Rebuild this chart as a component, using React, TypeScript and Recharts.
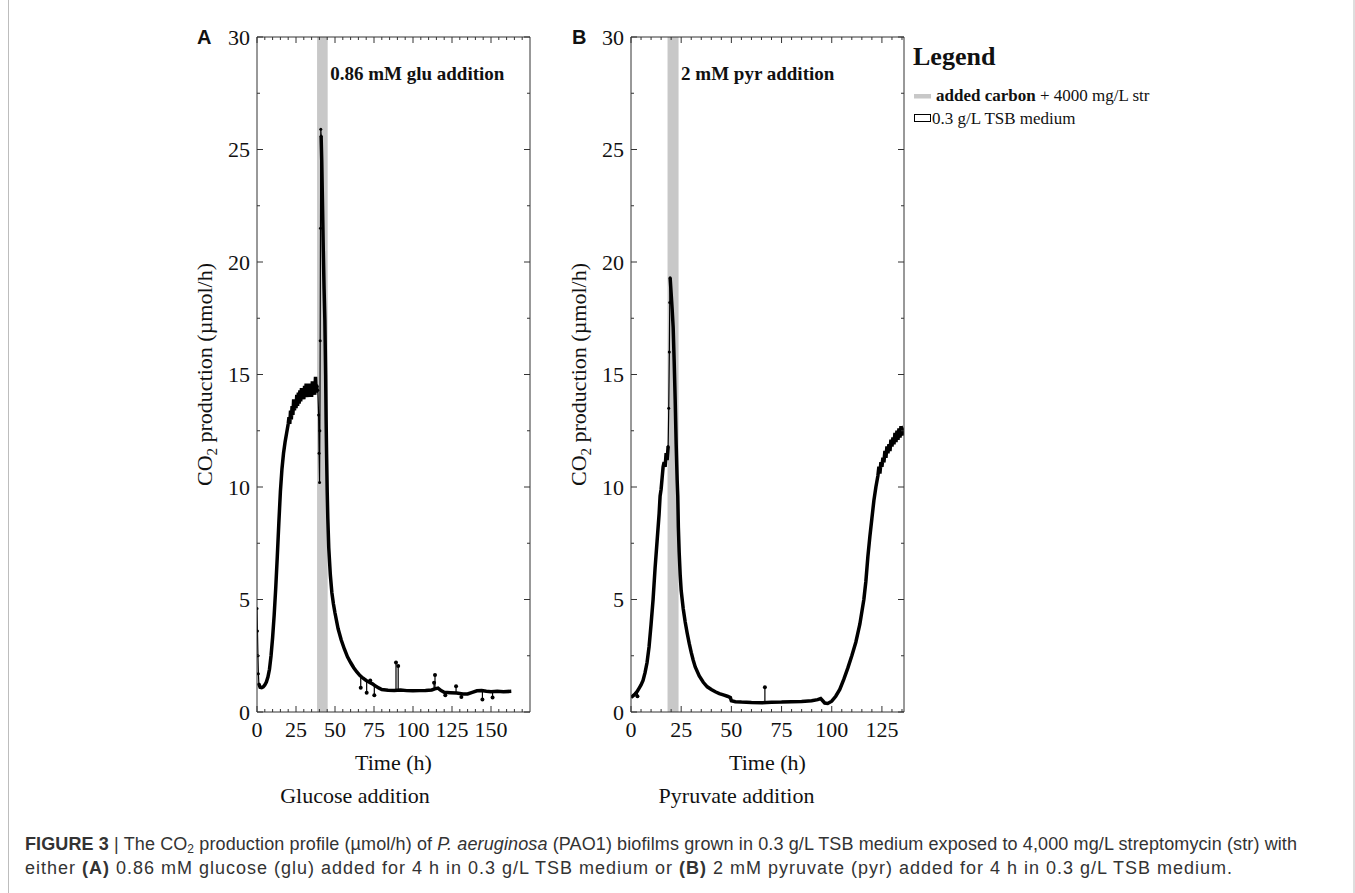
import { Line, LineChart, ReferenceArea, ReferenceDot, ReferenceLine, XAxis, YAxis } from 'recharts';

const SERIF = '"Liberation Serif", "Times New Roman", serif';
const SANS = '"Liberation Sans", Arial, sans-serif';
const INK = '#111';
const SHADE = '#c8c8c8';

type Pt = [number, number];
type Spike = [number, number, number]; // time, line level, tip

// shared y axis
const yTicks = [0, 5, 10, 15, 20, 25, 30];
const yMinorTicks = [2.5, 7.5, 12.5, 17.5, 22.5, 27.5];

// panel A: glucose
const glucoseTicks = [0, 25, 50, 75, 100, 125, 150];
const glucoseMinorTicks = [5, 10, 15, 20, 30, 35, 40, 45, 55, 60, 65, 70, 80, 85, 90, 95, 105, 110, 115, 120, 130, 135, 140, 145, 155, 160, 165, 170];
const glucosePulse = [38.5, 45.3];
const glucoseStart: Pt[] = [[0, 4.6], [0.3, 3.6], [0.6, 2.5], [0.9, 1.7], [1.2, 1.25]];
const glucoseGrowth: Pt[] = [
  [1.2, 1.25], [2, 1.1], [3, 1.08], [4, 1.12], [5, 1.2], [6, 1.33], [7, 1.55], [8, 1.9], [9, 2.5], [10, 3.3],
  [11, 4.3], [12, 5.5], [13, 6.9], [14, 8.4], [15, 9.8], [16, 10.8], [17, 11.5], [18, 12.0], [19, 12.4], [20, 12.8],
  [20.5, 13.1], [21, 12.8], [21.5, 13.4], [22, 13.0], [22.5, 13.6], [23, 13.2], [23.5, 13.9], [24, 13.4], [24.5, 13.9],
  [25, 13.5], [25.5, 14.1], [26, 13.6], [26.5, 14.2], [27, 13.7], [27.5, 14.3], [28, 13.8], [28.5, 14.4], [29, 13.9],
  [29.5, 14.3], [30, 13.9], [30.5, 14.5], [31, 14.0], [31.5, 14.6], [32, 14.0], [32.5, 14.4], [33, 14.0], [33.5, 14.6],
  [34, 14.1], [34.5, 14.5], [35, 14.0], [35.5, 14.7], [36, 14.1], [36.5, 14.5], [37, 14.1], [37.5, 14.9], [38, 14.2], [38.5, 14.5],
];
const glucoseBurst: Pt[] = [[38.5, 14.5], [39, 14.3], [39.5, 13.2], [39.8, 11.5], [40.1, 10.2], [40.3, 12.5], [40.5, 16.5], [40.7, 21.5], [40.9, 25.9], [41.1, 25.6]];
const glucoseDecay: Pt[] = [
  [41.1, 25.6], [41.5, 24.5], [42, 22.5], [42.5, 20.5], [43, 18.8], [43.5, 17.4], [44, 15.0], [44.3, 13.0], [44.6, 11.5],
  [45, 9.8], [45.4, 8.6], [46, 7.3], [47, 6.1], [48, 5.3], [49, 4.8], [50, 4.4], [52, 3.7], [54, 3.2], [56, 2.8],
  [58, 2.45], [60, 2.2], [62, 1.97], [64, 1.78], [66, 1.62], [68, 1.5], [70, 1.4], [72, 1.32], [74, 1.25], [76, 1.15],
  [78, 1.07], [80, 1.0], [84, 0.97], [88, 0.96], [92, 0.98], [96, 0.95], [100, 0.94], [104, 0.95], [108, 0.96],
  [112, 0.98], [114, 1.03], [116, 1.06], [118, 0.95], [120, 0.88], [124, 0.86], [128, 0.84], [132, 0.8], [135, 0.8],
  [138, 0.87], [141, 0.94], [144, 0.95], [147, 0.92], [150, 0.9], [154, 0.92], [158, 0.9], [163, 0.92],
];
const glucoseSpikes: Spike[] = [
  [66.5, 1.6, 1.08], [70.3, 1.4, 0.86], [72.6, 1.3, 1.4], [75.2, 1.2, 0.74], [89.1, 0.97, 2.2], [90.5, 0.98, 2.04],
  [113.5, 1.0, 1.3], [114.1, 1.02, 1.65], [120.7, 0.88, 0.74], [127.6, 0.84, 1.15], [131, 0.8, 0.67], [144.5, 0.95, 0.56], [151, 0.9, 0.64],
];

// panel B: pyruvate
const pyruvateTicks = [0, 25, 50, 75, 100, 125];
const pyruvateMinorTicks = [5, 10, 15, 20, 30, 35, 40, 45, 55, 60, 65, 70, 80, 85, 90, 95, 105, 110, 115, 120, 130, 135];
const pyruvatePulse = [18.2, 23.7];
const pyruvateGrowth: Pt[] = [
  [0, 0.65], [1, 0.72], [2, 0.8], [3, 0.9], [4, 1.05], [5, 1.2], [6, 1.4], [7, 1.75], [8, 2.2], [9, 2.9], [10, 3.9],
  [11, 5.0], [12, 6.4], [13, 7.6], [14, 8.8], [14.5, 9.6], [15, 9.9], [15.5, 10.4], [16, 10.9], [16.5, 11.1], [17, 10.9],
  [17.5, 11.5], [18, 11.2], [18.5, 11.8],
];
const pyruvateBurst: Pt[] = [[18.5, 11.8], [18.8, 13.5], [19.1, 16.0], [19.3, 18.2], [19.5, 19.3]];
const pyruvateDecay: Pt[] = [
  [19.5, 19.3], [20, 18.6], [20.5, 17.9], [21, 17.1], [21.5, 15.6], [22, 13.9], [22.5, 11.9], [23, 10.3], [23.3, 9.6],
  [23.6, 8.2], [24, 7.1], [24.5, 6.1], [25, 5.4], [26, 4.6], [27, 4.0], [28, 3.5], [29, 3.05], [30, 2.65], [31, 2.3],
  [32, 2.0], [34, 1.6], [36, 1.32], [38, 1.12], [40, 1.0], [42, 0.9], [44, 0.82], [46, 0.76], [48, 0.7], [49.5, 0.64],
  [50, 0.5], [52, 0.46], [55, 0.44], [60, 0.42], [65, 0.41], [70, 0.43], [75, 0.44], [80, 0.46], [85, 0.47], [90, 0.5],
  [93, 0.55], [94.5, 0.6], [95.5, 0.5], [96.5, 0.4], [98, 0.38], [100, 0.48], [102, 0.7], [104, 1.0], [106, 1.45],
  [108, 1.95], [110, 2.5], [112, 3.1], [114, 3.9], [116, 5.0], [117, 5.8], [118, 6.9], [119, 7.8], [120, 8.6], [121, 9.4],
  [122, 10.0], [123, 10.5], [123.5, 10.9], [124, 10.6], [124.5, 11.1], [125, 10.9], [125.5, 11.3], [126, 11.1],
  [126.5, 11.6], [127, 11.3], [127.5, 11.8], [128, 11.5], [128.5, 11.9], [129, 11.6], [129.5, 12.1], [130, 11.8],
  [130.5, 12.2], [131, 11.9], [131.5, 12.4], [132, 12.0], [132.5, 12.5], [133, 12.1], [133.5, 12.6], [134, 12.2],
  [134.5, 12.7], [135, 12.3], [135.5, 12.5], [136, 12.4],
];
const pyruvateSpikes: Spike[] = [[3.2, 0.9, 0.7], [66.7, 0.42, 1.1]];

const toPoints = (pts: Pt[]) => pts.map(([t, v]) => ({ t, v }));

const TICK_GAP = 10;

function tickFor(side: 'bottom' | 'top' | 'left' | 'right', majors: number[], labels: boolean) {
  return (p: any) => {
    const v = p.payload.value;
    const major = majors.includes(v);
    const len = major ? 6 : 3;
    if (side === 'bottom') {
      const y0 = p.y - TICK_GAP;
      return (
        <g>
          <line x1={p.x} x2={p.x} y1={y0} y2={y0 - len} stroke="#333" />
          {labels && major && (
            <text x={p.x} y={y0 + 25} textAnchor="middle" fontFamily={SERIF} fontSize={22} fill={INK}>{v}</text>
          )}
        </g>
      );
    }
    if (side === 'top') {
      return <line x1={p.x} x2={p.x} y1={p.y} y2={p.y + len} stroke="#333" />;
    }
    if (side === 'left') {
      const x0 = p.x + TICK_GAP;
      return (
        <g>
          <line x1={x0} x2={x0 + len} y1={p.y} y2={p.y} stroke="#333" />
          {labels && major && (
            <text x={x0 - 7} y={p.y + 7.5} textAnchor="end" fontFamily={SERIF} fontSize={22} fill={INK}>{v}</text>
          )}
        </g>
      );
    }
    return <line x1={p.x} x2={p.x - len} y1={p.y} y2={p.y} stroke="#333" />;
  };
}

interface PanelProps {
  left: number;
  yAxisWidth: number;
  xMax: number;
  xTicks: number[];
  xMinor: number[];
  pulse: number[];
  note: string;
  thin: Pt[][];
  thick: Pt[][];
  spikes: Spike[];
}

function Panel({ left, yAxisWidth, xMax, xTicks, xMinor, pulse, note, thin, thick, spikes }: PanelProps) {
  const allX = [...xTicks, ...xMinor].sort((a, b) => a - b);
  const allY = [...yTicks, ...yMinorTicks].sort((a, b) => a - b);
  const axisLine = { stroke: '#333', strokeWidth: 1 };
  const width = yAxisWidth + 273 + 20;
  return (
    <div style={{ position: 'absolute', left, top: 20 }}>
      <LineChart width={width} height={740} margin={{ top: 16, right: 19, bottom: 0, left: 0 }}>
        <XAxis xAxisId="b" type="number" dataKey="t" domain={[0, xMax]} allowDataOverflow ticks={allX} interval={0}
          tickSize={0} tickMargin={TICK_GAP} tickLine={false} height={48} axisLine={axisLine} tick={tickFor('bottom', xTicks, true)} />
        <XAxis xAxisId="t" orientation="top" type="number" dataKey="t" domain={[0, xMax]} allowDataOverflow ticks={allX} interval={0}
          tickSize={0} tickMargin={0} tickLine={false} height={1} axisLine={axisLine} tick={tickFor('top', xTicks, false)} />
        <YAxis yAxisId="l" type="number" domain={[0, 30]} allowDataOverflow ticks={allY} interval={0}
          tickSize={0} tickMargin={TICK_GAP} tickLine={false} width={yAxisWidth} axisLine={axisLine} tick={tickFor('left', yTicks, true)} />
        <YAxis yAxisId="r" orientation="right" type="number" domain={[0, 30]} allowDataOverflow ticks={allY} interval={0}
          tickSize={0} tickMargin={0} tickLine={false} width={1} axisLine={axisLine} tick={tickFor('right', yTicks, false)} />
        <ReferenceArea xAxisId="b" yAxisId="l" x1={pulse[0]} x2={pulse[1]} y1={0} y2={30} fill={SHADE} fillOpacity={1} stroke="none"
          label={(p: any) => (
            <text x={p.viewBox.x + p.viewBox.width + 2.5} y={p.viewBox.y + 43} fontFamily={SERIF} fontWeight="bold" fontSize={19} fill={INK}>{note}</text>
          )} />
        {/* invisible twin so the top and right box axes get drawn */}
        <Line xAxisId="t" yAxisId="r" data={toPoints(thick[0])} dataKey="v" stroke="none" dot={false} activeDot={false}
          legendType="none" isAnimationActive={false} />
        {thick.map((pts, i) => (
          <Line key={`k${i}`} xAxisId="b" yAxisId="l" data={toPoints(pts)} dataKey="v" type="linear" stroke="#000"
            strokeWidth={3.5} dot={false} activeDot={false} isAnimationActive={false} />
        ))}
        {thin.map((pts, i) => (
          <Line key={`n${i}`} xAxisId="b" yAxisId="l" data={toPoints(pts)} dataKey="v" type="linear" stroke="#000"
            strokeWidth={1.2} dot={{ r: 1.5, fill: '#000', stroke: 'none' }} activeDot={false} isAnimationActive={false} />
        ))}
        {spikes.map(([t, base, tip], i) => (
          <ReferenceLine key={`s${i}`} xAxisId="b" yAxisId="l" segment={[{ x: t, y: base }, { x: t, y: tip }]} stroke="#000" strokeWidth={1.2} />
        ))}
        {spikes.map(([t, , tip], i) => (
          <ReferenceDot key={`d${i}`} xAxisId="b" yAxisId="l" x={t} y={tip} r={2} fill="#000" stroke="none" />
        ))}
      </LineChart>
    </div>
  );
}

function YTitle({ x }: { x: number }) {
  return (
    <text transform={`translate(${x}, 374.5) rotate(-90)`} textAnchor="middle" fontFamily={SERIF} fontSize={22} fill={INK}>
      CO<tspan fontSize={15} dy={5}>2</tspan><tspan dy={-5}> production (µmol/h)</tspan>
    </text>
  );
}

export default function App() {
  return (
    <div style={{ position: 'absolute', left: 0, top: 0, width: 1355, height: 893, background: '#fff' }}>
      <Panel left={180} yAxisWidth={77} xMax={175} xTicks={glucoseTicks} xMinor={glucoseMinorTicks} pulse={glucosePulse}
        note="0.86 mM glu addition" thin={[glucoseStart, glucoseBurst]} thick={[glucoseGrowth, glucoseDecay]} spikes={glucoseSpikes} />
      <Panel left={555} yAxisWidth={76} xMax={136} xTicks={pyruvateTicks} xMinor={pyruvateMinorTicks} pulse={pyruvatePulse}
        note="2 mM pyr addition" thin={[pyruvateBurst]} thick={[pyruvateGrowth, pyruvateDecay]} spikes={pyruvateSpikes} />
      <svg width={1355} height={893} style={{ position: 'absolute', left: 0, top: 0, pointerEvents: 'none' }}>
        <line x1={8.5} x2={8.5} y1={0} y2={893} stroke="#bdbdbd" />
        <line x1={1354} x2={1354} y1={0} y2={893} stroke="#bdbdbd" />

        <text x={197} y={44} fontFamily={SANS} fontWeight="bold" fontSize={20} fill={INK}>A</text>
        <text x={572} y={44} fontFamily={SANS} fontWeight="bold" fontSize={20} fill={INK}>B</text>

        <YTitle x={212} />
        <YTitle x={586} />

        <text x={393.5} y={770} textAnchor="middle" fontFamily={SERIF} fontSize={22} fill={INK}>Time (h)</text>
        <text x={767.5} y={770} textAnchor="middle" fontFamily={SERIF} fontSize={22} fill={INK}>Time (h)</text>
        <text x={355} y={803} textAnchor="middle" fontFamily={SERIF} fontSize={22} fill={INK}>Glucose addition</text>
        <text x={736.5} y={803} textAnchor="middle" fontFamily={SERIF} fontSize={22} fill={INK}>Pyruvate addition</text>

        <text x={913} y={65} fontFamily={SERIF} fontWeight="bold" fontSize={26} fill={INK}>Legend</text>
        <rect x={914} y={94} width={17} height={4.5} fill={SHADE} />
        <text x={936} y={101} fontFamily={SERIF} fontSize={17} fill={INK}>
          <tspan fontWeight="bold">added carbon</tspan> + 4000 mg/L str
        </text>
        <rect x={914.5} y={114.5} width={16} height={7} fill="#fff" stroke="#000" strokeWidth={1} />
        <text x={932} y={124} fontFamily={SERIF} fontSize={17} fill={INK}>0.3 g/L TSB medium</text>

        <text x={25} y={850} fontFamily={SANS} fontSize={18} fill="#333" textLength={1272} lengthAdjust="spacing">
          <tspan fontWeight="bold">FIGURE 3</tspan>
          <tspan> | The CO</tspan><tspan fontSize={12} dy={3}>2</tspan>
          <tspan dy={-3}> production profile (µmol/h) of </tspan>
          <tspan fontStyle="italic">P. aeruginosa</tspan>
          <tspan> (PAO1) biofilms grown in 0.3 g/L TSB medium exposed to 4,000 mg/L streptomycin (str) with</tspan>
        </text>
        <text x={25} y={874} fontFamily={SANS} fontSize={18} fill="#333" textLength={1207} lengthAdjust="spacing">
          <tspan>either </tspan><tspan fontWeight="bold">(A)</tspan>
          <tspan> 0.86 mM glucose (glu) added for 4 h in 0.3 g/L TSB medium or </tspan>
          <tspan fontWeight="bold">(B)</tspan>
          <tspan> 2 mM pyruvate (pyr) added for 4 h in 0.3 g/L TSB medium.</tspan>
        </text>
      </svg>
    </div>
  );
}
